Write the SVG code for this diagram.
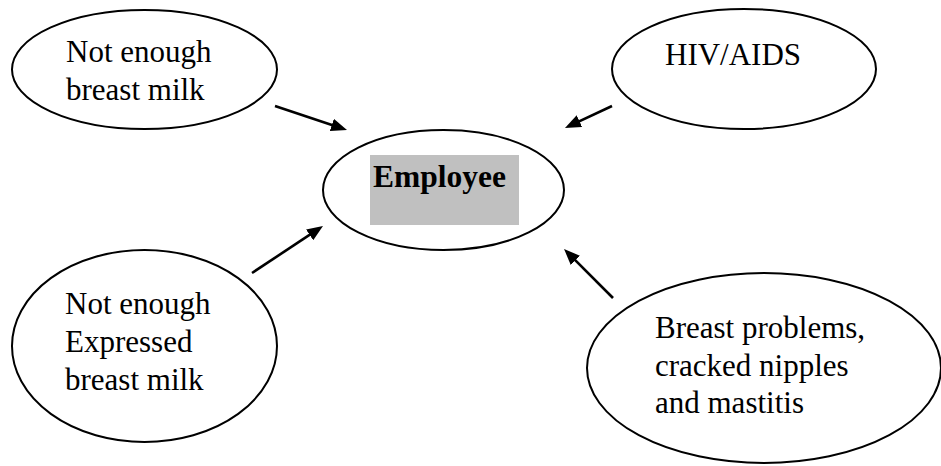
<svg xmlns="http://www.w3.org/2000/svg" width="941" height="466" viewBox="0 0 941 466">
<defs>
<style>
.node ellipse{fill:#fff;stroke:#000;stroke-width:2}
.lbl{font-family:"Liberation Serif","Times New Roman",serif;font-size:31px;fill:#000}
.bold{font-weight:bold;font-size:31.5px}
.conn line{stroke:#000;stroke-width:2.6}
</style>
<marker id="ah" viewBox="0 0 16 13" refX="8" refY="6.5" markerWidth="16" markerHeight="13" markerUnits="userSpaceOnUse" orient="auto">
<path d="M0,0 L16,6.5 L0,13 z" fill="#000"/>
</marker>
</defs>
<rect width="941" height="466" fill="#fff"/>
<g id="n1" class="node">
<ellipse cx="144.5" cy="69.5" rx="132.5" ry="59.5"/>
<text class="lbl" x="66" y="62">Not enough</text>
<text class="lbl" x="66" y="100">breast milk</text>
</g>
<g id="n2" class="node">
<ellipse cx="744" cy="69" rx="132" ry="60"/>
<text class="lbl" x="665" y="65">HIV/AIDS</text>
</g>
<g id="center" class="node">
<ellipse cx="443.5" cy="190" rx="120.5" ry="60"/>
<rect x="370" y="155" width="149" height="70" fill="#c0c0c0"/>
<text class="lbl bold" x="373" y="187">Employee</text>
</g>
<g id="n3" class="node">
<ellipse cx="144.5" cy="346" rx="132.5" ry="96"/>
<text class="lbl" x="65" y="314">Not enough</text>
<text class="lbl" x="65" y="352">Expressed</text>
<text class="lbl" x="65" y="390">breast milk</text>
</g>
<g id="n4" class="node">
<ellipse cx="764" cy="368" rx="177" ry="95"/>
<text class="lbl" x="655" y="338">Breast problems,</text>
<text class="lbl" x="655" y="376">cracked nipples</text>
<text class="lbl" x="655" y="413">and mastitis</text>
</g>
<g id="connectors" class="conn">
<line x1="275" y1="106" x2="339.4" y2="127.5" marker-end="url(#ah)"/>
<line x1="612" y1="106" x2="572.2" y2="124.6" marker-end="url(#ah)"/>
<line x1="252" y1="273" x2="316.3" y2="230.4" marker-end="url(#ah)"/>
<line x1="613" y1="298" x2="569.7" y2="254.7" marker-end="url(#ah)"/>
</g>
</svg>
